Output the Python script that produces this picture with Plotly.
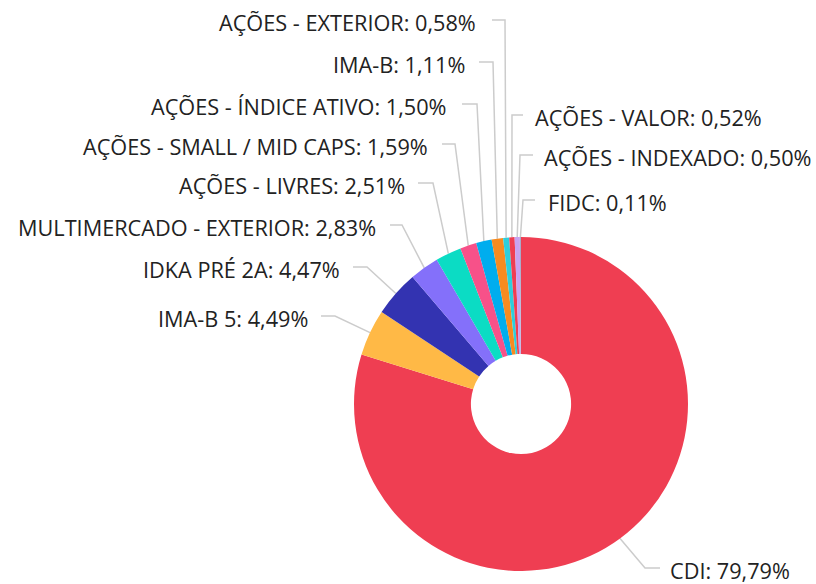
import math
import plotly.graph_objects as go

# ---- data ----
categories = ["CDI", "IMA-B 5", "IDKA PRÉ 2A", "MULTIMERCADO - EXTERIOR", "AÇÕES - LIVRES",
              "AÇÕES - SMALL / MID CAPS", "AÇÕES - ÍNDICE ATIVO", "IMA-B", "AÇÕES - EXTERIOR",
              "AÇÕES - VALOR", "AÇÕES - INDEXADO", "FIDC"]
values = [79.79, 4.49, 4.47, 2.83, 2.51, 1.59, 1.50, 1.11, 0.58, 0.52, 0.50, 0.11]
value_labels = ["79,79%", "4,49%", "4,47%", "2,83%", "2,51%", "1,59%", "1,50%", "1,11%",
                "0,58%", "0,52%", "0,50%", "0,11%"]

# ---- style / layout ----
colors = ["#EF3E52", "#FFB946", "#3333B1", "#8470FA", "#0BDCC4", "#F75189", "#00ADEE",
          "#F78B20", "#2DCFDC", "#EF3E52", "#C8A2F0", "#A9A9C8"]
W, H = 816, 584
CX, CY, R = 521, 404, 167
HOLE = 0.3
# label placement (pixels): side, label line y, bend x, horizontal end x, text x
label_side = ["R", "L", "L", "L", "L", "L", "L", "L", "L", "R", "R", "R"]
label_y = [568, 316, 267, 225, 183, 144, 104, 62, 20, 115, 155, 200]
bend_x = [645, 335, 367, 402, 433, 455, 477, 493, 505, 512, 520, 523]
hend_x = [660, 321, 353, 390, 418, 442, 462, 479, 492, 523, 533, 535]
text_x = [668, 310, 342, 378, 407, 430, 449, 467, 478, 533, 542, 546]
FONT = dict(family="Open Sans", size=21.7, color="#222222")
LINE_COLOR = "#CCCCCC"

fig = go.Figure()
fig.add_trace(go.Pie(
    labels=categories, values=values, hole=HOLE, sort=False, direction="clockwise",
    rotation=0, marker=dict(colors=colors, line=dict(width=0)), textinfo="none",
    hoverinfo="label+percent", showlegend=False,
    domain=dict(x=[(CX - R) / W, (CX + R) / W], y=[(H - CY - R) / H, (H - CY + R) / H]),
))

total = sum(values)
cum = 0.0
for i, (cat, v) in enumerate(zip(categories, values)):
    mid = (cum + v / 2) / total
    cum += v
    ang = 2 * math.pi * mid
    sx = CX + R * math.sin(ang)
    sy = CY - R * math.cos(ang)
    fig.add_trace(go.Scatter(
        x=[sx, bend_x[i], hend_x[i]], y=[sy, label_y[i], label_y[i]],
        mode="lines", line=dict(color=LINE_COLOR, width=1.5),
        hoverinfo="skip", showlegend=False, xaxis="x", yaxis="y"))
    fig.add_annotation(
        x=text_x[i], y=label_y[i] + 2, xref="x", yref="y",
        text=f"{cat}: {value_labels[i]}", showarrow=False, font=FONT,
        xanchor="left" if label_side[i] == "R" else "right", yanchor="middle")

fig.update_layout(
    width=W, height=H, margin=dict(l=0, r=0, t=0, b=0),
    paper_bgcolor="white", plot_bgcolor="rgba(0,0,0,0)",
    xaxis=dict(range=[0, W], visible=False, fixedrange=True),
    yaxis=dict(range=[H, 0], visible=False, fixedrange=True),
)
fig.write_html("out.html")
